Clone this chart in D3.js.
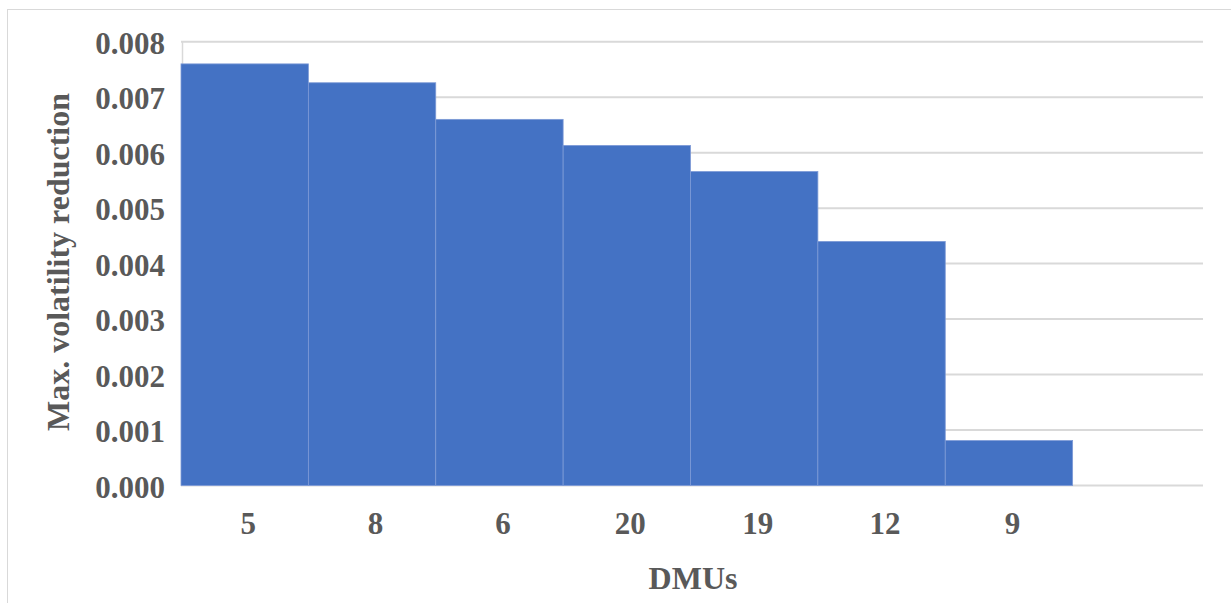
<!DOCTYPE html>
<html>
<head>
<meta charset="utf-8">
<script src="https://cdn.jsdelivr.net/npm/d3@7"></script>
<style>
  html, body { margin: 0; padding: 0; background: #ffffff; }
  svg { display: block; }
  text { font-family: "Liberation Serif", "Times New Roman", serif; font-weight: bold; fill: #595959; }
</style>
</head>
<body>
<svg id="chart" width="1231" height="603"></svg>
<script>
// DMUs ranked by maximum volatility reduction
const dmus = ["5", "8", "6", "20", "19", "12", "9"];
const reductions = [0.0076, 0.00726, 0.0066, 0.00613, 0.00566, 0.0044, 0.00081];
const yTicks = [0, 0.001, 0.002, 0.003, 0.004, 0.005, 0.006, 0.007, 0.008];

const svg = d3.select("#chart");

// chart frame
svg.append("rect")
  .attr("x", 7.5).attr("y", 9.5)
  .attr("width", 1240).attr("height", 620)
  .attr("fill", "none").attr("stroke", "#d9d9d9").attr("stroke-width", 1);

const plotLeft = 181, plotRight = 1203;
// one extra empty slot on the right of the category axis
const x = d3.scaleBand()
  .domain([...dmus, ""])
  .range([181, 1200])
  .padding(0);

const y = d3.scaleLinear()
  .domain([0, 0.008])
  .range([485.5, 41.7]);

// horizontal gridlines
svg.append("g")
  .selectAll("line")
  .data(yTicks)
  .join("line")
  .attr("x1", plotLeft).attr("x2", plotRight)
  .attr("y1", d => y(d)).attr("y2", d => y(d))
  .attr("stroke", "#d9d9d9").attr("stroke-width", 2);

// vertical axis line
svg.append("line")
  .attr("x1", 182.5).attr("x2", 182.5)
  .attr("y1", y(0.008)).attr("y2", y(0))
  .attr("stroke", "#d9d9d9").attr("stroke-width", 1.5);

// bars
svg.append("g")
  .selectAll("rect")
  .data(dmus.map((d, i) => ({ dmu: d, v: reductions[i] })))
  .join("rect")
  .attr("x", d => x(d.dmu))
  .attr("width", x.bandwidth())
  .attr("y", d => y(d.v))
  .attr("height", d => y(0) - y(d.v))
  .attr("fill", "#4472c4")
  .attr("stroke", "#7d9ad6")
  .attr("stroke-width", 0.8);

// y tick labels
svg.append("g")
  .selectAll("text")
  .data(yTicks)
  .join("text")
  .attr("x", 165)
  .attr("y", d => y(d) + 12)
  .attr("text-anchor", "end")
  .style("font-size", "31px")
  .text(d => d3.format(".3f")(d));

// x tick labels
svg.append("g")
  .selectAll("text")
  .data(dmus)
  .join("text")
  .attr("x", d => x(d) + x.bandwidth() / 2 + 3.5)
  .attr("y", 534)
  .attr("text-anchor", "middle")
  .style("font-size", "31px")
  .text(d => d);

// axis titles
svg.append("text")
  .attr("transform", "translate(69,262) rotate(-90)")
  .attr("text-anchor", "middle")
  .style("font-size", "32px")
  .text("Max. volatility reduction");

svg.append("text")
  .attr("x", 693)
  .attr("y", 589)
  .attr("text-anchor", "middle")
  .style("font-size", "32px")
  .text("DMUs");
</script>
</body>
</html>
